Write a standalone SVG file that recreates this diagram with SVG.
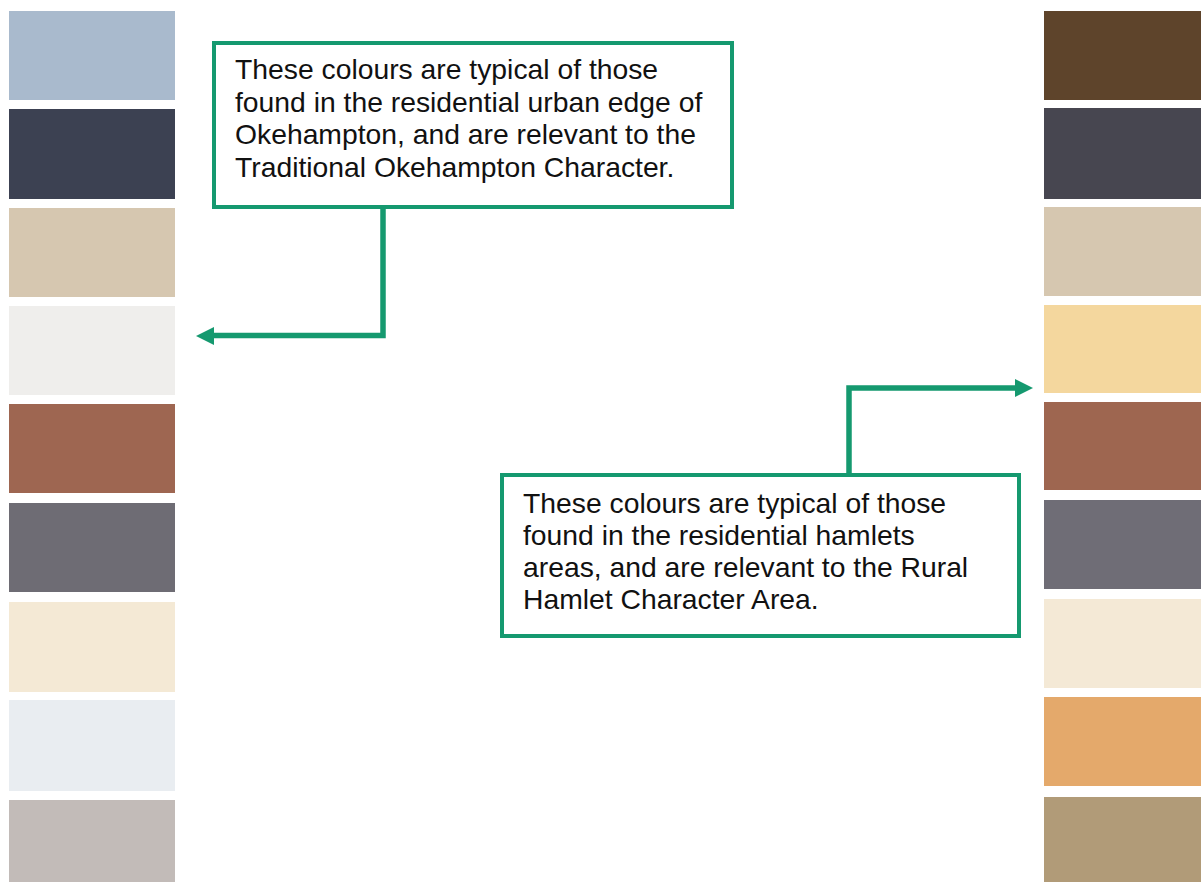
<svg xmlns="http://www.w3.org/2000/svg" width="1201" height="882" viewBox="0 0 1201 882">
<style>
.sw{stroke:none}
.box{fill:#fff;stroke:#15996F;stroke-width:4}
.con{fill:none;stroke:#15996F;stroke-width:5.5}
.t{font-family:"Liberation Sans",Arial,sans-serif;font-size:28.3px;fill:#111}
</style>
<rect width="1201" height="882" fill="#fff"/>
<g id="left-swatches">
<rect class="sw" x="9" y="11" width="166" height="89" fill="#A9BACD"/>
<rect class="sw" x="9" y="109" width="166" height="90" fill="#3C4152"/>
<rect class="sw" x="9" y="208" width="166" height="89" fill="#D6C7B0"/>
<rect class="sw" x="9" y="306" width="166" height="89" fill="#EFEEEC"/>
<rect class="sw" x="9" y="404" width="166" height="89" fill="#9E6651"/>
<rect class="sw" x="9" y="503" width="166" height="89" fill="#6E6C74"/>
<rect class="sw" x="9" y="602" width="166" height="90" fill="#F4E9D5"/>
<rect class="sw" x="9" y="700" width="166" height="91" fill="#E9EDF1"/>
<rect class="sw" x="9" y="800" width="166" height="82" fill="#C2BBB8"/>
</g>
<g id="right-swatches">
<rect class="sw" x="1044" y="11" width="157" height="89" fill="#5E442B"/>
<rect class="sw" x="1044" y="108" width="157" height="91" fill="#474650"/>
<rect class="sw" x="1044" y="207" width="157" height="89" fill="#D6C7B0"/>
<rect class="sw" x="1044" y="305" width="157" height="88" fill="#F4D79E"/>
<rect class="sw" x="1044" y="402" width="157" height="88" fill="#9E6650"/>
<rect class="sw" x="1044" y="500" width="157" height="89" fill="#6F6D76"/>
<rect class="sw" x="1044" y="599" width="157" height="89" fill="#F4E9D6"/>
<rect class="sw" x="1044" y="697" width="157" height="89" fill="#E4A96B"/>
<rect class="sw" x="1044" y="797" width="157" height="85" fill="#B19B78"/>
</g>
<g id="connectors">
<path class="con" d="M383,207 L383,335.5 L214,335.5"/>
<path d="M214,327 L196,336 L214,345 Z" fill="#15996F"/>
<path class="con" d="M849,474 L849,388 L1015,388"/>
<path d="M1015,379 L1033,388 L1015,397 Z" fill="#15996F"/>
</g>
<g id="box-okehampton">
<rect class="box" x="214" y="43" width="518" height="164"/>
<text class="t" x="235" y="79">These colours are typical of those</text>
<text class="t" x="235" y="111.5">found in the residential urban edge of</text>
<text class="t" x="235" y="144">Okehampton, and are relevant to the</text>
<text class="t" x="235" y="176.5">Traditional Okehampton Character.</text>
</g>
<g id="box-hamlet">
<rect class="box" x="502" y="475" width="517" height="161"/>
<text class="t" x="523" y="512.5">These colours are typical of those</text>
<text class="t" x="523" y="544.5">found in the residential hamlets</text>
<text class="t" x="523" y="576.5">areas, and are relevant to the Rural</text>
<text class="t" x="523" y="608.5">Hamlet Character Area.</text>
</g>
</svg>
